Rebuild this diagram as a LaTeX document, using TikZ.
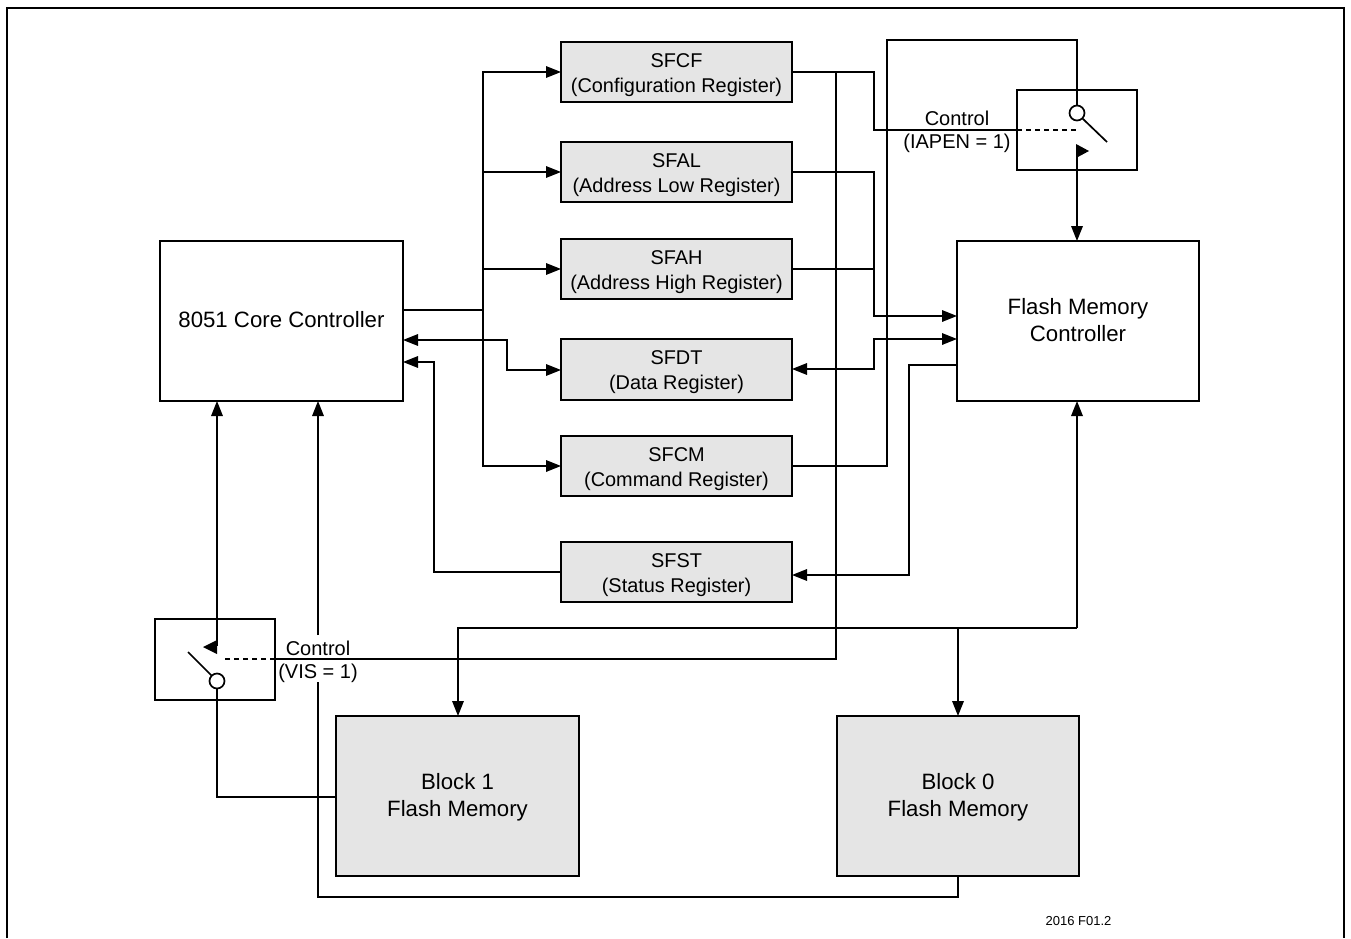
\documentclass[tikz,border=0pt]{standalone}
\usepackage{fontspec}
\setmainfont{Liberation Sans}
\usetikzlibrary{arrows.meta,calc}
\newcommand\regA{\rule{0pt}{20pt}}
\newcommand\regB{\rule[-5pt]{0pt}{5pt}}
\newcommand\bigA{\rule{0pt}{20pt}}
\newcommand\bigB{\rule[-7pt]{0pt}{7pt}}
\tikzset{
 wire/.style={line width=1.7pt,line join=miter,black},
 arr/.style={wire,-{Triangle[length=15pt,width=11.5pt]}},
 darr/.style={wire,{Triangle[length=15pt,width=11.5pt]}-{Triangle[length=15pt,width=11.5pt]}},
 box/.style={draw,line width=1.7pt,inner sep=0pt,outer sep=0pt,align=center,anchor=center},
 reg/.style={box,fill=black!10,minimum width=231pt,minimum height=60pt,font=\fontsize{19.9}{25}\selectfont},
 big/.style={box,minimum width=243pt,minimum height=160pt,font=\fontsize{22.2}{27}\selectfont},
 mem/.style={big,fill=black!10},
 swbox/.style={box,minimum width=120pt,minimum height=80pt},
 tag/.style={font=\fontsize{20}{24}\selectfont,inner sep=0pt},
 ctl/.style={wire,dash pattern=on 5pt off 4pt},
 pivot/.style={circle,draw,fill=white,line width=1.7pt,minimum size=15pt,inner sep=0pt,outer sep=0pt},
 tip/.style={fill=black,draw=none}
}
\begin{document}
\begin{tikzpicture}[x=1pt,y=-1pt]
\useasboundingbox (0,0) rectangle (1351,938);
\fill[white] (0,0) rectangle (1351,938);
\draw[wire] (7,938) -- (7,8) -- (1344,8) -- (1344,938);

\node[big] (core) at (281.5,321) {\bigA 8051 Core Controller\bigB};
\node[big,minimum width=242pt] (fmc) at (1078,321) {\bigA Flash Memory\\Controller\bigB};
\node[reg] (sfcf) at (676.5,72) {\regA SFCF\\(Configuration Register)\regB};
\node[reg] (sfal) at (676.5,172) {\regA SFAL\\(Address Low Register)\regB};
\node[reg] (sfah) at (676.5,269) {\regA SFAH\\(Address High Register)\regB};
\node[reg,minimum height=61pt] (sfdt) at (676.5,369.5) {\regA SFDT\\(Data Register)\regB};
\node[reg] (sfcm) at (676.5,466) {\regA SFCM\\(Command Register)\regB};
\node[reg] (sfst) at (676.5,572) {\regA SFST\\(Status Register)\regB};
\node[mem] (blk1) at (457.5,796) {\bigA Block 1\\Flash Memory\bigB};
\node[mem,minimum width=242pt] (blk0) at (958,796) {\bigA Block 0\\Flash Memory\bigB};
\node[swbox] (swa) at (1077,130) {};
\node[swbox,minimum height=81pt] (swb) at (215,659.5) {};

% bus from core
\coordinate (bus) at (483,310);
\draw[wire] (core.east |- bus) -- (bus);
\draw[arr] (bus) |- (sfcf.west);
\draw[arr] (bus) |- (sfal.west);
\draw[arr] (bus) |- (sfah.west);
\draw[arr] (bus) |- (sfcm.west);
% data
\draw[darr] (core.east |- 0,340) -- (507,340) |- (sfdt.west |- 0,370);
% status
\draw[arr] (sfst.west) -| (434,362) -- (core.east |- 0,362);
% SFCF
\coordinate (jb) at (836,72);
\coordinate (ca) at (1017,130);
\coordinate (cb) at (275,659);
\draw[wire] (sfcf.east) -| (874,130) -- (ca);
\draw[wire] (jb) |- (cb);
\draw[ctl] (ca) -- (1077,130);
\draw[ctl] (cb) -- (222,659);
% SFAL / SFAH
\coordinate (fa) at (957,316);
\coordinate (fb) at (957,339);
\coordinate (fc) at (957,365);
\draw[arr] (sfal.east) -| (874,316) -- (fa);
\draw[wire] (sfah.east) -- (sfah.east -| 874,0);
% SFDT
\draw[darr] (sfdt.east |- 0,369) -| (874,339) -- (fb);
% status return
\draw[arr] (fc) -| (909,575) -- (sfst.east |- 0,575);
% SFCM and switch A
\node[pivot] (pa) at (1077,113) {};
\draw[wire] (sfcm.east) -| (887,40) -| (pa.north);
\draw[wire] (pa.south east) -- (1107,142);
\fill[tip] (1076,144) -- (1089,151) -- (1076,158) -- cycle;
\draw[arr] (1077,150) -- (fmc.north -| 1077,0);
% lower bus
\draw[arr] (1077,628) -- (fmc.south -| 1077,0);
\draw[arr] (1077,628) -| (blk1.north -| 458,0);
\draw[arr] (blk0.north |- 0,628) -- (blk0.north);
% switch B
\node[pivot] (pb) at (217,681) {};
\draw[wire] (blk1.west |- 0,797) -| (pb.south);
\draw[wire] (pb.north west) -- (188,652);
\fill[tip] (217,640) -- (203,647) -- (217,654) -- cycle;
\draw[arr] (217,646) -- (core.south -| 217,0);
% block 0 to core with gap for the label
\coordinate (ga) at (318,682);
\coordinate (gb) at (318,635);
\draw[wire] (blk0.south) |- (318,897) -- (ga);
\draw[arr] (gb) -- (core.south -| 318,0);

\node[tag] (t1) at (957,118) {Control};
\node[tag] (t2) at (957,143.5) {(IAPEN = 1)};
\node[tag] (t3) at (318,648) {Control};
\node[tag] (t4) at (318,673.5) {(VIS = 1)};
\node[font=\fontsize{13}{15}\selectfont,inner sep=0pt] (fig) at (1078.5,921) {2016 F01.2};
\end{tikzpicture}
\end{document}
